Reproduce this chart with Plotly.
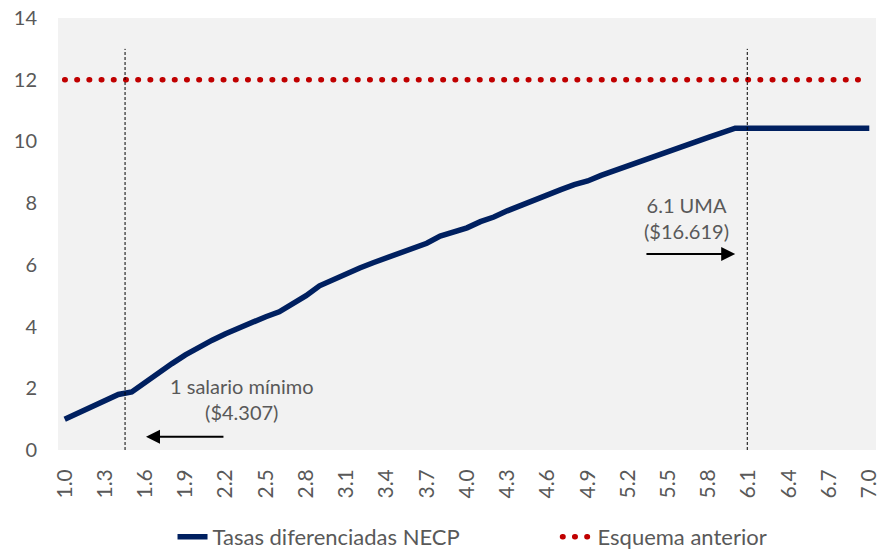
import plotly.graph_objects as go

# ---- data ----
x_vals = [round(1.0 + 0.1 * i, 1) for i in range(61)]
tasas_necp = [1.00, 1.20, 1.40, 1.60, 1.80, 1.88, 2.20, 2.50, 2.80, 3.08,
              3.33, 3.56, 3.77, 3.96, 4.15, 4.32, 4.48, 4.72, 5.00, 5.32,
              5.52, 5.72, 5.90, 6.07, 6.23, 6.38, 6.53, 6.70, 6.93, 7.07,
              7.20, 7.40, 7.55, 7.75, 7.93, 8.08, 8.25, 8.44, 8.60, 8.72,
              8.90, 9.06, 9.21, 9.36, 9.52, 9.67, 9.82, 9.98, 10.13, 10.29,
              10.43, 10.43, 10.43, 10.43, 10.43, 10.43, 10.43, 10.43, 10.43, 10.43,
              10.43]
esquema_anterior = [12.0] * 61
tick_vals = [round(1.0 + 0.3 * i, 1) for i in range(21)]
tick_text = [f"{v:.1f}" for v in tick_vals]
y_ticks = [0, 2, 4, 6, 8, 10, 12, 14]

salario_minimo_x = 1.45
uma_x = 6.09

FONT = "Lato"
GREY = "#595959"
RED = "#C00000"

fig = go.Figure()
fig.add_trace(go.Scatter(
    x=x_vals, y=tasas_necp, mode="lines", name="Tasas diferenciadas NECP",
    line=dict(color="#002060", width=5.5)))
fig.add_trace(go.Scatter(
    x=x_vals, y=esquema_anterior, mode="lines", name="Esquema anterior",
    line=dict(color=RED, width=5.5, dash="0.5px,11.7px")))

for xv in (salario_minimo_x, uma_x):
    fig.add_shape(type="line", xref="x", yref="y", x0=xv, x1=xv, y0=0, y1=13,
                  line=dict(color="black", width=1, dash="3px,2px"))

fig.add_annotation(x=1.606, y=0.43, ax=2.195, ay=0.43, xref="x", yref="y",
                   axref="x", ayref="y", text="", showarrow=True,
                   arrowhead=2, arrowsize=1.4, arrowwidth=2, arrowcolor="black")
fig.add_annotation(x=6.0, y=6.35, ax=5.327, ay=6.35, xref="x", yref="y",
                   axref="x", ayref="y", text="", showarrow=True,
                   arrowhead=2, arrowsize=1.4, arrowwidth=2, arrowcolor="black")

fig.add_annotation(x=2.32, y=1.66, xref="x", yref="y", showarrow=False,
                   text="1 salario mínimo<br>($4.307)",
                   font=dict(family=FONT, size=20, color=GREY))
fig.add_annotation(x=5.638, y=7.51, xref="x", yref="y", showarrow=False,
                   text="6.1 UMA<br>($16.619)",
                   font=dict(family=FONT, size=20, color=GREY))

fig.update_layout(
    width=879, height=549,
    margin=dict(l=58, r=3, t=18, b=99, autoexpand=False),
    paper_bgcolor="white", plot_bgcolor="#F2F2F2",
    font=dict(family=FONT, color=GREY, size=20),
    showlegend=True,
    legend=dict(orientation="h", x=0.14, xanchor="left", y=-0.201,
                yanchor="middle", font=dict(family=FONT, size=22, color=GREY),
                entrywidth=340, traceorder="normal"),
)
fig.update_xaxes(range=[0.95, 7.05], tickmode="array", tickvals=tick_vals,
                 ticktext=tick_text, tickangle=-90, showgrid=False,
                 zeroline=False, showline=False, ticks="", automargin=False,
                 ticklabeloverflow="allow",
                 ticklabelstandoff=14, tickfont=dict(size=21, color=GREY))
fig.update_yaxes(range=[0, 14], tickmode="array", tickvals=y_ticks,
                 showgrid=False, zeroline=False, showline=False, ticks="",
                 automargin=False,
                 ticklabelstandoff=20, tickfont=dict(size=20, color=GREY))

# round line caps so the dotted "Esquema anterior" line shows round dots
post = """
function roundDots(){
  var gd = document.getElementsByClassName('plotly-graph-div')[0];
  if(!gd) return;
  gd.querySelectorAll('path').forEach(function(p){
    var s = (p.style.stroke || '').replace(/\\s/g,'');
    if(s === 'rgb(192,0,0)'){ p.style.strokeLinecap = 'round'; }
  });
}
roundDots();
var gdx = document.getElementsByClassName('plotly-graph-div')[0];
if(gdx && gdx.on){ gdx.on('plotly_afterplot', roundDots); }
"""

fig.write_html("out.html", post_script=post)
